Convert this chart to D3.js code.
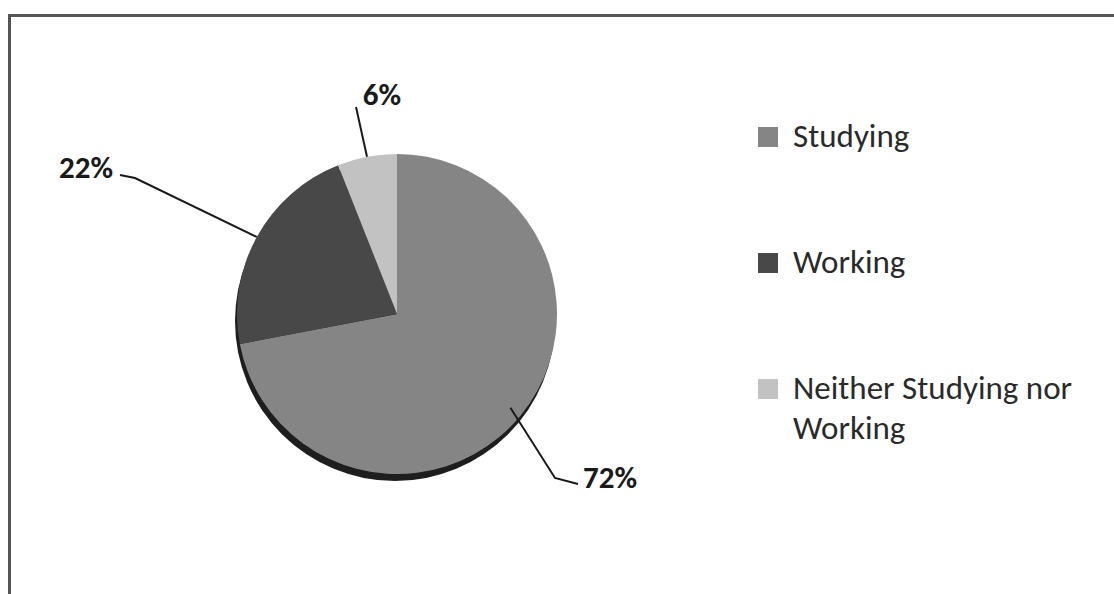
<!DOCTYPE html>
<html><head><meta charset="utf-8">
<script src="https://cdn.jsdelivr.net/npm/d3@7"></script>
<style>html,body{margin:0;padding:0;background:#fff;}svg{display:block;}</style>
</head><body>
<svg id="chart" width="1114" height="594"></svg>
<script>
const categories = ["Studying", "Working", "Neither Studying nor Working"];
const values = [72, 22, 6];
const labels = ["72%", "22%", "6%"];
const colors = ["#858585", "#484848", "#c2c2c2"];

const svg = d3.select("#chart");
const font = "Carlito, Calibri, Lato, 'Open Sans', sans-serif";

// frame
svg.append("rect").attr("x", 9.5).attr("y", 15.5).attr("width", 1200).attr("height", 700)
  .attr("fill", "#fff").attr("stroke", "#555").attr("stroke-width", 3);

const cx = 397, cy = 314, R = 160;
const g = svg.append("g").attr("transform", `translate(${cx},${cy})`);

const pie = d3.pie().sort(null).value(d => d).startAngle(0).endAngle(2 * Math.PI);
const arcs = pie(values);
const arc = d3.arc().innerRadius(0).outerRadius(R);

// shadow
g.append("circle").attr("cx", -2).attr("cy", 7).attr("r", R).attr("fill", "#1e1e1e");

g.selectAll("path.slice").data(arcs).join("path").attr("class", "slice")
  .attr("d", arc).attr("fill", (d, i) => colors[i]);

// leader lines layout
const leader = [
  {r: 0.92, elbow: [158, 164], end: [181, 170], anchor: "start", tx: 186, ty: 174},
  {r: 1.0, elbow: [-262, -136], end: [-277, -139], anchor: "end", tx: -284, ty: -136},
  {r: 1.0, elbow: [-41, -207], end: [-41, -207], anchor: "middle", tx: -15, ty: -209}
];
const poly = d3.line();
arcs.forEach((a, i) => {
  const m = (a.startAngle + a.endAngle) / 2;
  const L = leader[i];
  const p0 = [Math.sin(m) * R * L.r, -Math.cos(m) * R * L.r];
  g.append("path").attr("d", poly([p0, L.elbow, L.end]))
    .attr("fill", "none").attr("stroke", "#1a1a1a").attr("stroke-width", 2);
  g.append("text").attr("x", L.tx).attr("y", L.ty).attr("text-anchor", L.anchor)
    .attr("font-family", font).attr("font-weight", "bold").attr("font-size", 31)
    .attr("fill", "#1a1a1a").text(labels[i]);
});

// legend
const ly = d3.scalePoint().domain(categories).range([137, 389]);
const leg = svg.append("g");
categories.forEach((c, i) => {
  const y = ly(c);
  leg.append("rect").attr("x", 758).attr("y", y - 10).attr("width", 20).attr("height", 20).attr("fill", colors[i]);
  const t = leg.append("text").attr("x", 793).attr("y", y + 10)
    .attr("font-family", font).attr("font-size", 33).attr("fill", "#2a2a2a");
  if (c.length > 20) {
    t.append("tspan").attr("x", 793).text("Neither Studying nor");
    t.append("tspan").attr("x", 793).attr("dy", 40).text("Working");
  } else t.text(c);
});
</script>
</body></html>
